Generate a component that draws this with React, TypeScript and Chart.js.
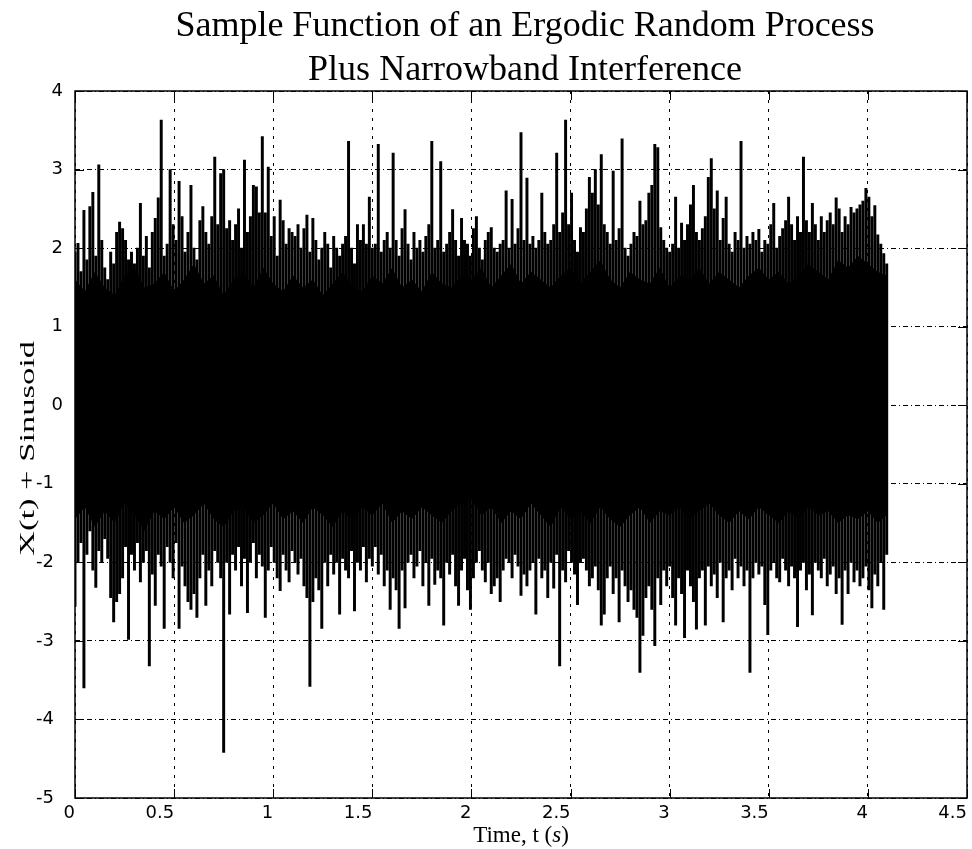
import React, { useEffect, useRef } from 'react';
import { Chart, registerables } from 'chart.js';

Chart.register(...registerables);

// ---------- text ----------
const TITLE_LINES = ['Sample Function of an Ergodic Random Process', 'Plus Narrowband Interference'];
const X_AXIS_TITLE_PARTS = ['Time, t (', 's', ')'];
const Y_AXIS_TITLE = 'X(t) + Sinusoid';

// ---------- ticks ----------
const X_TICKS = [0, 0.5, 1, 1.5, 2, 2.5, 3, 3.5, 4, 4.5];
const X_TICK_LABELS = ['0', '0.5', '1', '1.5', '2', '2.5', '3', '3.5', '4', '4.5'];
const Y_TICKS = [-5, -4, -3, -2, -1, 0, 1, 2, 3, 4];
const Y_TICK_LABELS = ['-5', '-4', '-3', '-2', '-1', '0', '1', '2', '3', '4'];

// ---------- data ----------
// envelope columns every SAMPLE_STEP seconds: highest and lowest excursion in each column
const SAMPLE_STEP = 0.015;
const SIGNAL_END = 4.095;
const UPPER_PEAKS = [
  1.95, 2.06, 1.7, 2.48, 1.85, 2.53, 2.71, 1.9, 3.06, 2.1,
  1.75, 1.6, 1.95, 1.8, 2.2, 2.33, 2.25, 2.1, 1.85, 1.95,
  1.8, 2.0, 2.57, 1.9, 2.15, 1.75, 2.2, 2.38, 2.64, 3.63,
  1.9, 2.05, 3.0, 2.3, 2.1, 2.85, 2.4, 1.95, 2.2, 2.8,
  2.0, 1.85, 2.35, 2.53, 2.2, 2.05, 2.4, 3.16, 2.3, 2.95,
  3.0, 2.25, 2.35, 2.1, 2.3, 2.5, 2.0, 3.12, 2.2, 2.4,
  2.8, 2.78, 2.45, 3.42, 2.45, 3.03, 2.15, 2.4, 1.9, 2.61,
  2.35, 2.05, 2.25, 2.2, 2.15, 2.3, 2.0, 2.25, 2.42, 1.95,
  2.38, 2.1, 1.85, 2.0, 2.2, 2.05, 1.75, 2.15, 2.0, 1.9,
  2.05, 2.15, 3.36, 2.0, 1.8, 2.3, 2.1, 2.3, 2.05, 2.65,
  2.0, 2.05, 3.32, 1.95, 2.1, 2.2, 2.0, 3.21, 2.1, 1.9,
  2.25, 2.49, 2.05, 1.85, 2.2, 2.0, 2.1, 1.95, 2.15, 2.3,
  3.36, 2.0, 2.1, 3.1, 1.95, 2.05, 2.2, 2.49, 2.1, 1.9,
  2.38, 2.1, 2.05, 1.9, 2.25, 2.4, 2.0, 1.85, 2.1, 2.2,
  2.26, 2.0, 1.95, 2.05, 2.1, 2.73, 2.0, 2.62, 2.05, 2.25,
  3.47, 2.1, 2.89, 2.05, 2.15, 2.0, 2.1, 2.7, 2.2, 2.05,
  2.1, 2.3, 3.21, 2.2, 2.45, 3.63, 2.3, 2.7, 2.1, 1.95,
  2.26, 2.2, 2.5, 2.9, 2.7, 3.0, 2.55, 3.19, 2.3, 2.2,
  2.05, 2.98, 2.1, 2.25, 3.39, 2.0, 1.9, 2.05, 2.2, 2.15,
  2.6, 2.3, 2.35, 2.7, 2.8, 3.32, 3.28, 2.26, 2.1, 2.0,
  1.95, 2.05, 2.65, 2.0, 2.32, 2.1, 2.3, 2.55, 2.8, 2.2,
  2.1, 2.25, 2.4, 2.9, 3.14, 2.5, 2.73, 2.1, 2.38, 2.65,
  2.05, 1.95, 2.2, 2.1, 3.36, 2.0, 2.15, 2.05, 2.2, 2.1,
  2.24, 1.95, 2.1, 2.05, 2.3, 2.57, 2.0, 2.15, 2.25, 2.35,
  2.65, 2.3, 2.1, 2.4, 2.2, 3.16, 2.35, 2.2, 2.57, 2.3,
  2.1, 2.4, 2.2, 2.35, 2.45, 2.3, 2.64, 2.5, 2.2, 2.4,
  2.3, 2.52, 2.45, 2.5, 2.55, 2.6, 2.76, 2.65, 2.4, 2.54,
  2.17, 2.05, 1.93, 1.8,
];
const LOWER_PEAKS = [
  -2.56, -2.0, -1.75, -3.6, -1.9, -1.6, -2.1, -2.32, -1.85, -2.0,
  -1.7, -1.95, -2.45, -2.76, -2.5, -2.4, -2.2, -1.8, -2.98, -1.9,
  -2.1, -1.75, -2.25, -2.0, -1.85, -3.32, -2.15, -2.55, -1.9, -2.05,
  -2.84, -1.8, -2.0, -2.2, -1.75, -2.84, -2.05, -2.3, -2.5, -2.6,
  -2.4, -2.7, -2.2, -1.9, -2.55, -2.1, -2.3, -1.85, -2.0, -2.2,
  -4.42, -2.0, -2.66, -1.9, -2.1, -1.8, -2.3, -1.95, -2.64, -2.0,
  -1.75, -2.2, -1.9, -2.05, -2.7, -2.1, -1.8, -2.0, -2.2, -2.36,
  -1.9, -2.1, -2.25, -1.85, -2.0, -2.15, -1.95, -2.3, -2.45, -3.58,
  -2.5, -2.2, -2.35, -2.84, -2.0, -2.3, -1.9, -2.15, -2.0, -2.66,
  -1.95, -2.1, -2.2, -1.85, -2.62, -2.0, -2.1, -1.8, -2.25, -1.95,
  -2.05, -1.8, -2.15, -1.9, -2.3, -2.1, -2.6, -2.2, -2.35, -2.84,
  -2.1, -2.58, -2.0, -1.9, -2.2, -2.05, -1.85, -2.3, -2.0, -2.55,
  -1.95, -2.28, -2.1, -2.2, -2.8, -2.0, -2.15, -1.9, -2.3, -2.55,
  -2.1, -1.95, -2.35, -2.6, -2.2, -2.0, -1.85, -2.1, -2.25, -2.0,
  -2.4, -2.3, -2.2, -2.5, -2.1, -1.95, -2.0, -2.2, -1.9, -2.05,
  -2.42, -2.15, -2.3, -2.1, -2.0, -2.66, -1.95, -2.2, -2.1, -2.45,
  -2.0, -2.33, -1.9, -3.32, -2.1, -2.25, -1.85, -2.0, -2.15, -2.54,
  -2.0, -1.95, -2.1, -2.3, -2.2, -2.05, -2.35, -2.8, -2.66, -2.2,
  -2.05, -2.4, -2.2, -2.76, -2.1, -2.3, -2.5, -2.35, -2.6, -2.7,
  -3.4, -2.93, -2.45, -2.3, -2.6, -3.06, -2.2, -2.54, -2.1, -2.3,
  -2.05, -2.45, -2.8, -2.2, -2.4, -2.96, -2.1, -2.3, -2.5, -2.85,
  -2.2, -2.1, -2.8, -2.05, -2.3, -2.15, -2.45, -2.0, -2.76, -2.2,
  -2.1, -2.35, -1.95, -2.2, -2.05, -2.3, -2.1, -3.4, -2.2, -2.0,
  -2.15, -2.05, -2.54, -2.92, -2.1, -2.0, -2.2, -2.25, -1.95, -2.1,
  -2.3, -2.05, -2.2, -2.82, -2.1, -2.0, -2.35, -2.15, -2.67, -2.0,
  -2.1, -2.2, -1.95, -2.3, -2.15, -2.05, -2.4, -2.2, -2.79, -2.1,
  -2.4, -2.0, -2.25, -2.1, -2.3, -2.2, -2.05, -2.35, -2.58, -2.15,
  -2.3, -2.0, -2.6, -1.9,
];
// solid core of the trace, every CORE_STEP seconds (last point at SIGNAL_END)
const CORE_STEP = 0.05;
const CORE_TOP = [
  1.6, 1.45, 1.7, 1.5, 1.4, 1.65, 1.75, 1.5, 1.55, 1.7,
  1.45, 1.6, 1.8, 1.55, 1.65, 1.4, 1.6, 1.7, 1.5, 1.75,
  1.55, 1.45, 1.65, 1.5, 1.6, 1.4, 1.55, 1.7, 1.5, 1.45,
  1.65, 1.55, 1.75, 1.5, 1.6, 1.45, 1.7, 1.55, 1.5, 1.65,
  1.6, 1.75, 1.5, 1.65, 1.8, 1.55, 1.7, 1.6, 1.5, 1.65,
  1.75, 1.55, 1.7, 1.85, 1.6, 1.5, 1.7, 1.6, 1.55, 1.75,
  1.5, 1.65, 1.6, 1.75, 1.55, 1.7, 1.6, 1.5, 1.65, 1.75,
  1.6, 1.7, 1.55, 1.65, 1.8, 1.7, 1.6, 1.85, 1.75, 1.9,
  1.8, 1.7, 1.65,
];
const CORE_BOTTOM = [
  -1.45, -1.3, -1.55, -1.35, -1.5, -1.25, -1.4, -1.6, -1.35, -1.45,
  -1.3, -1.5, -1.4, -1.25, -1.45, -1.55, -1.35, -1.3, -1.5, -1.4,
  -1.25, -1.45, -1.35, -1.5, -1.3, -1.4, -1.55, -1.35, -1.45, -1.3,
  -1.4, -1.25, -1.5, -1.35, -1.45, -1.3, -1.4, -1.5, -1.35, -1.25,
  -1.2, -1.4, -1.3, -1.5, -1.35, -1.45, -1.25, -1.4, -1.55, -1.3,
  -1.45, -1.35, -1.5, -1.3, -1.45, -1.55, -1.4, -1.3, -1.5, -1.35,
  -1.4, -1.3, -1.45, -1.35, -1.25, -1.4, -1.5, -1.35, -1.45, -1.3,
  -1.4, -1.5, -1.35, -1.45, -1.3, -1.4, -1.35, -1.5, -1.4, -1.45,
  -1.35, -1.5, -1.4,
];

const SERIF = '"Liberation Serif", "Times New Roman", serif';
const SANS = '"DejaVu Sans", sans-serif';

const framePlugin = {
  id: 'figureFrame',
  afterDraw(chart: any) {
    const { ctx, chartArea: a, scales } = chart;
    ctx.save();
    ctx.strokeStyle = '#000';
    ctx.setLineDash([]);
    ctx.lineWidth = 1.5;
    ctx.strokeRect(a.left, a.top, a.right - a.left, a.bottom - a.top);
    ctx.lineWidth = 1;
    const TL = 9;
    ctx.beginPath();
    X_TICKS.forEach((v) => {
      const x = Math.round(scales.x.getPixelForValue(v)) + 0.5;
      ctx.moveTo(x, a.bottom);
      ctx.lineTo(x, a.bottom - TL);
      ctx.moveTo(x, a.top);
      ctx.lineTo(x, a.top + TL);
    });
    Y_TICKS.forEach((v) => {
      const y = Math.round(scales.y.getPixelForValue(v)) + 0.5;
      ctx.moveTo(a.left, y);
      ctx.lineTo(a.left + TL, y);
      ctx.moveTo(a.right, y);
      ctx.lineTo(a.right - TL, y);
    });
    ctx.stroke();

    // main title, centred over the plot area
    ctx.fillStyle = '#000';
    ctx.textBaseline = 'alphabetic';
    ctx.textAlign = 'center';
    ctx.font = `36px ${SERIF}`;
    const cx = (a.left + a.right) / 2 + 4;
    ctx.fillText(TITLE_LINES[0], cx, a.top - 55);
    ctx.fillText(TITLE_LINES[1], cx, a.top - 11);

    // x axis title with italic unit
    const fonts = [`23px ${SERIF}`, `italic 23px ${SERIF}`, `23px ${SERIF}`];
    let total = 0;
    const widths = X_AXIS_TITLE_PARTS.map((p, i) => {
      ctx.font = fonts[i];
      const w = ctx.measureText(p).width;
      total += w;
      return w;
    });
    ctx.textAlign = 'left';
    let x = (a.left + a.right) / 2 - total / 2;
    X_AXIS_TITLE_PARTS.forEach((p, i) => {
      ctx.font = fonts[i];
      ctx.fillText(p, x, a.bottom + 44);
      x += widths[i];
    });

    // y axis title (stretched along its length like the original bitmap text)
    ctx.save();
    ctx.translate(28, (a.top + a.bottom) / 2 + 4);
    ctx.rotate(-Math.PI / 2);
    ctx.font = `22px ${SERIF}`;
    const yw = ctx.measureText(Y_AXIS_TITLE).width;
    ctx.scale(215 / yw, 1);
    ctx.textAlign = 'center';
    ctx.textBaseline = 'middle';
    ctx.fillText(Y_AXIS_TITLE, 0, 0);
    ctx.restore();

    ctx.restore();
  },
};

export default function App() {
  const canvasRef = useRef<HTMLCanvasElement | null>(null);

  useEffect(() => {
    const canvas = canvasRef.current;
    if (!canvas) return;

    const envelope = UPPER_PEAKS.map((hi, i) => ({ x: i * SAMPLE_STEP, y: [LOWER_PEAKS[i], hi] }));
    const coreX = (i: number) => Math.min(i * CORE_STEP, SIGNAL_END);
    const coreTop = CORE_TOP.map((v, i) => ({ x: coreX(i), y: v }));
    const coreBottom = CORE_BOTTOM.map((v, i) => ({ x: coreX(i), y: v }));

    const chart = new Chart(canvas, {
      type: 'bar',
      data: {
        datasets: [
          {
            type: 'line',
            label: 'core top',
            data: coreTop,
            borderColor: 'rgba(0,0,0,0)',
            borderWidth: 0,
            pointRadius: 0,
            backgroundColor: '#000',
            fill: '+1',
            order: 2,
          } as any,
          {
            type: 'line',
            label: 'core bottom',
            data: coreBottom,
            borderColor: 'rgba(0,0,0,0)',
            borderWidth: 0,
            pointRadius: 0,
            fill: false,
            order: 2,
          } as any,
          {
            type: 'bar',
            label: 'X(t) + Sinusoid',
            data: envelope,
            backgroundColor: '#000',
            borderWidth: 0,
            barThickness: 2.3,
            grouped: false,
            order: 1,
          } as any,
        ],
      },
      options: {
        animation: false,
        responsive: false,
        maintainAspectRatio: false,
        layout: { padding: { top: 91, right: 3, left: 0, bottom: 0 } },
        plugins: {
          legend: { display: false },
          tooltip: { enabled: false },
          title: { display: false },
        },
        scales: {
          x: {
            type: 'linear',
            min: 0,
            max: 4.5,
            offset: false,
            afterFit: (s: any) => {
              s.height = 51;
            },
            afterBuildTicks: (s: any) => {
              s.ticks = X_TICKS.map((v) => ({ value: v }));
            },
            grid: { color: '#000', lineWidth: 1, drawTicks: false, offset: false },
            border: { display: false, dash: [3, 6] },
            ticks: {
              align: 'end',
              padding: 5,
              maxRotation: 0,
              autoSkip: false,
              color: '#000',
              font: { family: SANS, size: 18 },
              callback: (_v: any, i: number) => X_TICK_LABELS[i],
            },
          },
          y: {
            type: 'linear',
            min: -5,
            max: 4,
            afterFit: (s: any) => {
              s.width = 75;
            },
            afterBuildTicks: (s: any) => {
              s.ticks = Y_TICKS.map((v) => ({ value: v }));
            },
            grid: { color: '#000', lineWidth: 1, drawTicks: false },
            border: { display: false, dash: [5, 3, 1, 3] },
            ticks: {
              padding: 12,
              color: '#000',
              font: { family: SANS, size: 18 },
              callback: (_v: any, i: number) => Y_TICK_LABELS[i] + (Y_TICKS[i] < 0 ? '\u2002' : ''),
            },
          },
        },
      } as any,
      plugins: [framePlugin],
    });

    return () => chart.destroy();
  }, []);

  return (
    <div style={{ position: 'fixed', left: 0, top: 0, width: 972, height: 849, background: '#fff' }}>
      <canvas ref={canvasRef} width={972} height={849} style={{ display: 'block' }} />
    </div>
  );
}
